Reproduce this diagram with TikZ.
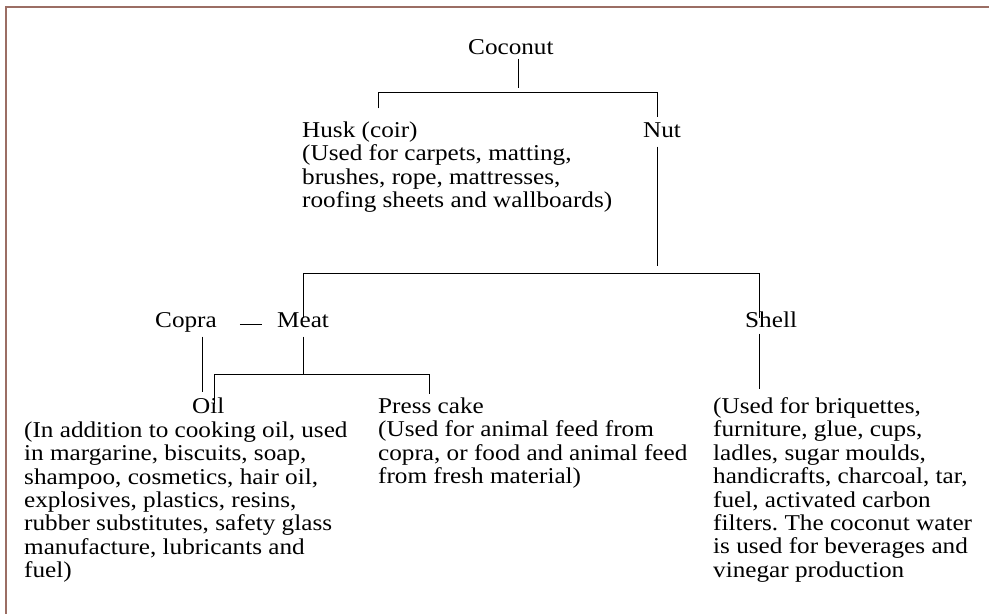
\documentclass[tikz,border=0pt]{standalone}
\usepackage{fontspec}
\setmainfont{Liberation Serif}[FakeStretch=1.115]
\definecolor{framebrown}{RGB}{155,110,100}
\frenchspacing

\begin{document}
\begin{tikzpicture}[x=1pt,y=-1pt,
    lbl/.style={inner xsep=0pt,inner ysep=2pt,text height=0.7em,text depth=0.25em,anchor=base west},
    txt/.style={inner sep=0pt,align=left,anchor=north west},
    tree/.style={line width=1pt},
    every node/.append style={font=\fontsize{22.6}{23.4}\selectfont}]
\useasboundingbox (0,0) rectangle (989,614);
\draw[framebrown,line width=1.5pt] (989,7) -- (6,7) -- (6,614);

% parts of the coconut
\node[lbl] (coco) at (468,54) {Coconut};
\node[txt] (husk) at (302,121.4) {Husk (coir)\\(Used for carpets, matting,\\brushes, rope, mattresses,\\roofing sheets and wallboards)};
\node[lbl] (nut) at (643,137) {Nut};
\node[lbl] (copra) at (155,327) {Copra};
\node[lbl] (meat) at (277,327) {Meat};
\node[lbl] (shell) at (745,327) {Shell};
\node[lbl] (oil) at (192,413) {Oil};
\node[txt] (oiluse) at (24,421.4) {(In addition to cooking oil, used\\in margarine, biscuits, soap,\\shampoo, cosmetics, hair oil,\\explosives, plastics, resins,\\rubber substitutes, safety glass\\manufacture, lubricants and\\fuel)};
\node[txt] (press) at (378,397.4) {Press cake\\(Used for animal feed from\\copra, or food and animal feed\\from fresh material)};
\node[txt] (shelluse) at (713,397.4) {(Used for briquettes,\\furniture, glue, cups,\\ladles, sugar moulds,\\handicrafts, charcoal, tar,\\fuel, activated carbon\\filters. The coconut water\\is used for beverages and\\vinegar production};

% junctions
\coordinate (j1) at (518,92);
\coordinate (j1l) at (378,92);
\coordinate (j1r) at (657,92);
\coordinate (j2) at (657,273);
\coordinate (j2l) at (303,273);
\coordinate (j2r) at (759,273);
\coordinate (j3) at (303,374);
\coordinate (j3l) at (214,374);
\coordinate (j3r) at (429,374);
\coordinate (j3c) at (202,392);

% connectors
\draw[tree] (coco.south -| j1) -- ([yshift=4pt]j1);
\draw[tree,shorten <=13pt,shorten >=11pt] (husk.north -| j1l) -- (j1l) -- (j1r) -- (nut.north -| j1r);
\draw[tree,shorten <=5pt] (nut.south -| j2) -- ([yshift=7pt]j2);
\draw[tree] (meat.north -| j2l) -- (j2l) -- (j2r) -- (shell.north -| j2r);
\draw[tree,shorten <=23pt,shorten >=15pt] (copra.east) -- (meat.west);
\draw[tree,shorten <=5pt] (copra.south -| j3c) -- (j3c);
\draw[tree,shorten <=5pt] (meat.south -| j3) -- (j3);
\draw[tree,shorten >=3pt] (oil.north -| j3l) -- (j3l) -- (j3r) -- (press.north -| j3r);
\draw[tree,shorten <=2pt,shorten >=8pt] (shell.south -| j2r) -- (shelluse.north -| j2r);
\end{tikzpicture}
\end{document}
